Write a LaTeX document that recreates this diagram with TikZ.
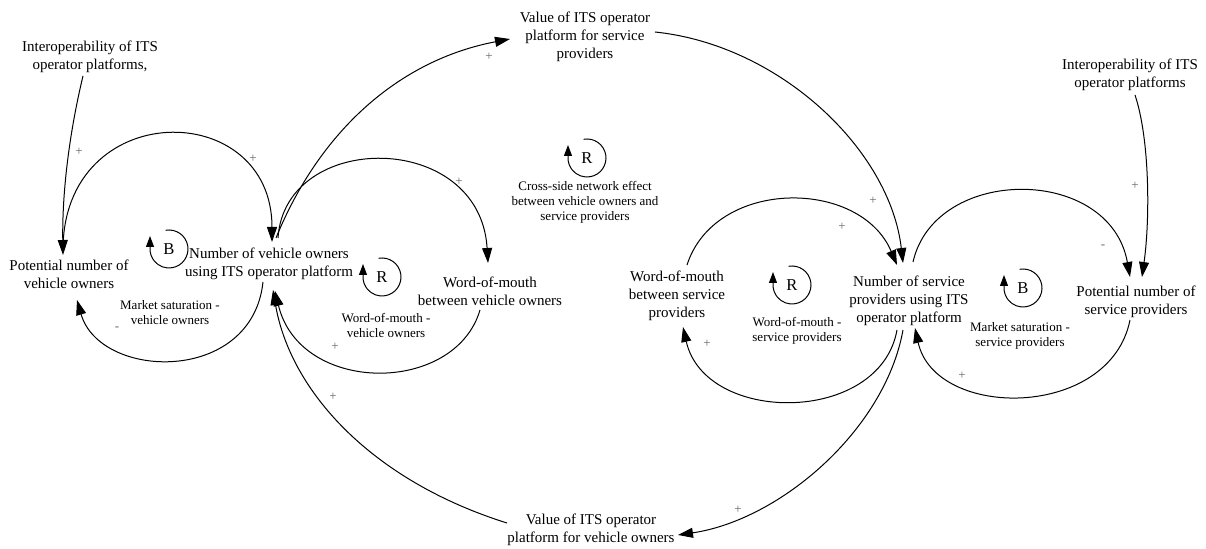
\documentclass[tikz,border=0pt]{standalone}
\usepackage{fontspec}
\setmainfont{Liberation Serif}
\usetikzlibrary{arrows.meta}
\begin{document}
\begin{tikzpicture}[x=0.5pt,y=-0.5pt,
  var/.style={align=center, inner sep=0pt, font=\fontsize{7.5}{9}\selectfont},
  loopname/.style={align=center, inner sep=0pt, font=\fontsize{6.5}{7.5}\selectfont},
  pol/.style={inner sep=0pt, text=black!60, font=\fontsize{6.5}{7}\selectfont},
  loopid/.style={inner sep=0pt, font=\fontsize{8.3}{9}\selectfont},
  link/.style={line width=0.5pt, -{Triangle[length=7.5pt,width=5pt]}},
  looparrow/.style={line width=0.5pt, -{Triangle[length=5.5pt,width=4pt]}},
]
\useasboundingbox (0,0) rectangle (1206,549);

% variables
\node[var] (interL) at (90,57) {Interoperability of ITS\\operator platforms,};
\node[var] (potVO) at (69,274) {Potential number of\\vehicle owners};
\node[var] (nvo) at (269,264) {Number of vehicle owners\\using ITS operator platform};
\node[var] (womVO) at (490,291) {Word-of-mouth\\between vehicle owners};
\node[var] (valSP) at (585,37) {Value of ITS operator\\platform for service\\providers};
\node[var] (womSP) at (677,296) {Word-of-mouth\\between service\\providers};
\node[var] (nsp) at (909,301) {Number of service\\providers using ITS\\operator platform};
\node[var] (potSP) at (1136,302) {Potential number of\\service providers};
\node[var] (interR) at (1130,75) {Interoperability of ITS\\operator platforms};
\node[var] (valVO) at (591,530) {Value of ITS operator\\platform for vehicle owners};

% loop names
\node[loopname] (msVO) at (170,313) {Market saturation -\\vehicle owners};
\node[loopname] (wVO) at (386,325) {Word-of-mouth -\\vehicle owners};
\node[loopname] (cross) at (585,202) {Cross-side network effect\\between vehicle owners and\\service providers};
\node[loopname] (wSP) at (797,331) {Word-of-mouth -\\service providers};
\node[loopname] (msSP) at (1020,336) {Market saturation -\\service providers};

% loop markers
\node[loopid] (lb1) at (169,249) {B};
\node[loopid] (lr1) at (382,277) {R};
\node[loopid] (lr2) at (587,158) {R};
\node[loopid] (lr3) at (792,285) {R};
\node[loopid] (lb2) at (1023,288) {B};
\foreach \m in {lb1,lr1,lr2,lr3,lb2}
  \draw[looparrow] ([shift={(-100:19)}]\m.center) arc[start angle=-100, end angle=180, radius=19] -- ++(0,-13);

% causal links
\draw[link] ([shift={(-7,19)}]interL.center) .. controls +(-13,54) and +(-1,-65) .. ([shift={(-6,-19)}]potVO.center);
\draw[link] ([shift={(-6,-24)}]potVO.center) .. controls +(0,-153) and +(0,-145) .. ([shift={(3,-22)}]nvo.center);
\draw[link] ([shift={(-6,18)}]nvo.center) .. controls +(-11,103) and +(23,80) .. ([shift={(8,26)}]potVO.center);
\draw[link] ([shift={(9,-26)}]nvo.center) .. controls +(7,-108) and +(-8,-133) .. ([shift={(-2,-28)}]womVO.center);
\draw[link] ([shift={(7,-26)}]nvo.center) .. controls +(44,-108) and +(-110,21) .. ([shift={(-75,2)}]valSP.center);
\draw[link] ([shift={(70,-5)}]valSP.center) .. controls +(125,13) and +(-13,-113) .. ([shift={(-6,-38)}]nsp.center);
\draw[link] ([shift={(10,-31)}]womSP.center) .. controls +(28,-87) and +(-37,-87) .. ([shift={(-12,-36)}]nsp.center);
\draw[link] ([shift={(4,-39)}]nsp.center) .. controls +(22,-97) and +(-20,-112) .. ([shift={(-6,-25)}]potSP.center);
\draw[link] ([shift={(5,20)}]interR.center) .. controls +(15,45) and +(8,-57) .. ([shift={(6,-25)}]potSP.center);
\draw[link] ([shift={(-6,18)}]potSP.center) .. controls +(-20,100) and +(20,92) .. ([shift={(6,27)}]nsp.center);
\draw[link] ([shift={(-12,29)}]nsp.center) .. controls +(-17,95) and +(22,98) .. ([shift={(6,31)}]womSP.center);
\draw[link] ([shift={(-6,29)}]nsp.center) .. controls +(-18,100) and +(102,-15) .. ([shift={(87,5)}]valVO.center);
\draw[link] ([shift={(-84,-7)}]valVO.center) .. controls +(-137,-43) and +(17,100) .. ([shift={(4,26)}]nvo.center);
\draw[link] ([shift={(-10,19)}]womVO.center) .. controls +(-25,85) and +(25,104) .. ([shift={(6,27)}]nvo.center);

% polarities
\node[pol] (p1) at (79,152) {+};
\node[pol] (p2) at (253,159) {+};
\node[pol] (p3) at (117,329) {-};
\node[pol] (p4) at (459,182) {+};
\node[pol] (p5) at (489,57) {+};
\node[pol] (p6) at (873,201) {+};
\node[pol] (p7) at (842,227) {+};
\node[pol] (p8) at (1103,247) {-};
\node[pol] (p9) at (1135,186) {+};
\node[pol] (p10) at (962,376) {+};
\node[pol] (p11) at (707,344) {+};
\node[pol] (p12) at (738,510) {+};
\node[pol] (p13) at (333,397) {+};
\node[pol] (p14) at (335,347) {+};
\end{tikzpicture}
\end{document}
